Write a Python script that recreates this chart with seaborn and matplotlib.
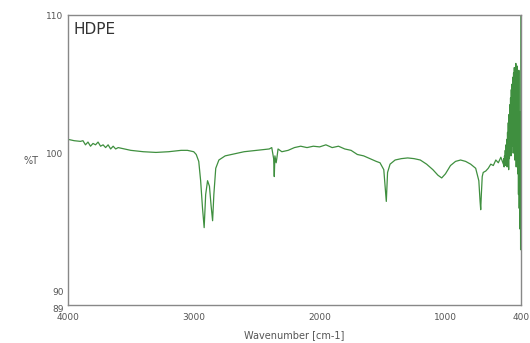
import matplotlib
matplotlib.use("Agg")
import matplotlib.pyplot as plt
import seaborn as sns
import pandas as pd

wavenumber = [4000, 3950, 3900, 3880, 3860, 3840, 3820, 3800, 3780, 3760, 3740, 3720, 3700,
              3680, 3660, 3640, 3620, 3600, 3550, 3500, 3400, 3300, 3200, 3100, 3050, 3000,
              2980, 2960, 2945, 2930, 2917, 2905, 2890, 2875, 2862, 2850, 2840, 2825, 2800,
              2750, 2700, 2600, 2500, 2400, 2380, 2365, 2360, 2355, 2345, 2340, 2330, 2300,
              2250, 2200, 2150, 2100, 2050, 2000, 1950, 1900, 1850, 1800, 1750, 1700, 1650,
              1600, 1550, 1520, 1490, 1475, 1470, 1465, 1460, 1440, 1400, 1350, 1300, 1250,
              1200, 1150, 1100, 1060, 1030, 1000, 960, 920, 880, 840, 800, 760, 735, 725,
              720, 715, 708, 700, 680, 660, 640, 620, 600, 580, 560,
              540, 537, 534, 531, 528, 525, 522, 519, 516, 513, 510, 507, 504, 501, 498, 495,
              492, 489, 486, 483, 480, 477, 474, 471, 468, 465, 462, 459, 456, 453, 450, 447,
              444, 441, 438, 435, 432, 429, 426, 423, 420, 417, 414, 411, 408, 405, 403, 401,
              400]
transmittance = [101.0, 100.9, 100.85, 100.9, 100.6, 100.8, 100.5, 100.7, 100.6, 100.8, 100.5,
                 100.6, 100.4, 100.6, 100.3, 100.5, 100.3, 100.4, 100.3, 100.2, 100.1, 100.05,
                 100.1, 100.2, 100.2, 100.1, 99.9, 99.4, 98.0, 96.0, 94.6, 97.0, 98.0, 97.6,
                 96.2, 95.1, 97.0, 98.9, 99.5, 99.8, 99.9, 100.1, 100.2, 100.3, 100.4, 99.6,
                 98.3, 99.8, 99.3, 99.6, 100.3, 100.1, 100.2, 100.4, 100.5, 100.4, 100.5,
                 100.45, 100.6, 100.4, 100.5, 100.3, 100.2, 99.9, 99.8, 99.6, 99.4, 99.3, 98.8,
                 97.0, 96.5, 97.5, 98.6, 99.2, 99.5, 99.6, 99.65, 99.6, 99.5, 99.2, 98.8, 98.4,
                 98.2, 98.5, 99.1, 99.4, 99.5, 99.4, 99.2, 98.9, 98.0, 96.5, 95.9, 97.0, 98.3,
                 98.6, 98.7, 98.9, 99.2, 99.1, 99.5, 99.3, 99.7,
                 99.2, 99.6, 99.0, 99.8, 99.3, 100.2, 99.1, 100.6, 99.5, 101.0, 99.0, 101.5,
                 99.8, 102.2, 98.8, 102.8, 99.6, 103.5, 100.2, 104.0, 99.8, 104.6, 100.5, 105.0,
                 101.0, 105.5, 100.0, 105.8, 101.5, 106.2, 99.5, 106.0, 102.0, 106.5, 99.0,
                 105.5, 101.0, 106.3, 98.5, 104.5, 97.0, 106.0, 96.0, 103.0, 94.5, 100.0, 93.0,
                 110.0, 110.0]

x_ticks = [4000, 3500, 3000, 2500, 2000, 1500, 1000, 500, 400]
x_tick_labels = ["4000", "", "3000", "", "2000", "", "1000", "", "400"]
y_ticks = [89, 90, 95, 100, 105, 110]
y_tick_labels = ["89", "90", "", "100", "", "110"]

df = pd.DataFrame({"Wavenumber": wavenumber, "T": transmittance})

sns.set_style("white")
plt.rcParams["font.family"] = ["DejaVu Sans"]

fig = plt.figure(figsize=(5.3, 3.43), dpi=100)
ax = fig.add_axes([0.128, 0.111, 0.855, 0.845])
sns.lineplot(data=df, x="Wavenumber", y="T", ax=ax, color="#3f8f3f", linewidth=0.9,
             estimator=None, sort=False)

ax.set_xlim(4000, 400)
ax.set_ylim(89, 110)
ax.set_xticks(x_ticks)
ax.set_xticklabels(x_tick_labels)
ax.set_yticks(y_ticks)
ax.set_yticklabels(y_tick_labels)
ax.tick_params(direction="in", length=4, width=0.8, colors="#777777", labelcolor="#555555",
               labelsize=6.5)
ax.tick_params(axis="x", pad=6)
ax.tick_params(axis="y", pad=3)
ax.get_yticklabels()[0].set_va("top")
for s in ax.spines.values():
    s.set_color("#888888")
    s.set_linewidth(1.0)

ax.set_xlabel("Wavenumber [cm-1]", fontsize=7, color="#555555", labelpad=6)
ax.set_ylabel("%T", fontsize=7, color="#555555", rotation=0)
ax.yaxis.set_label_coords(-0.082, 0.48)
ax.text(0.012, 0.975, "HDPE", transform=ax.transAxes, fontsize=11, color="#333333",
        ha="left", va="top")

fig.savefig("out.png", dpi=100)
